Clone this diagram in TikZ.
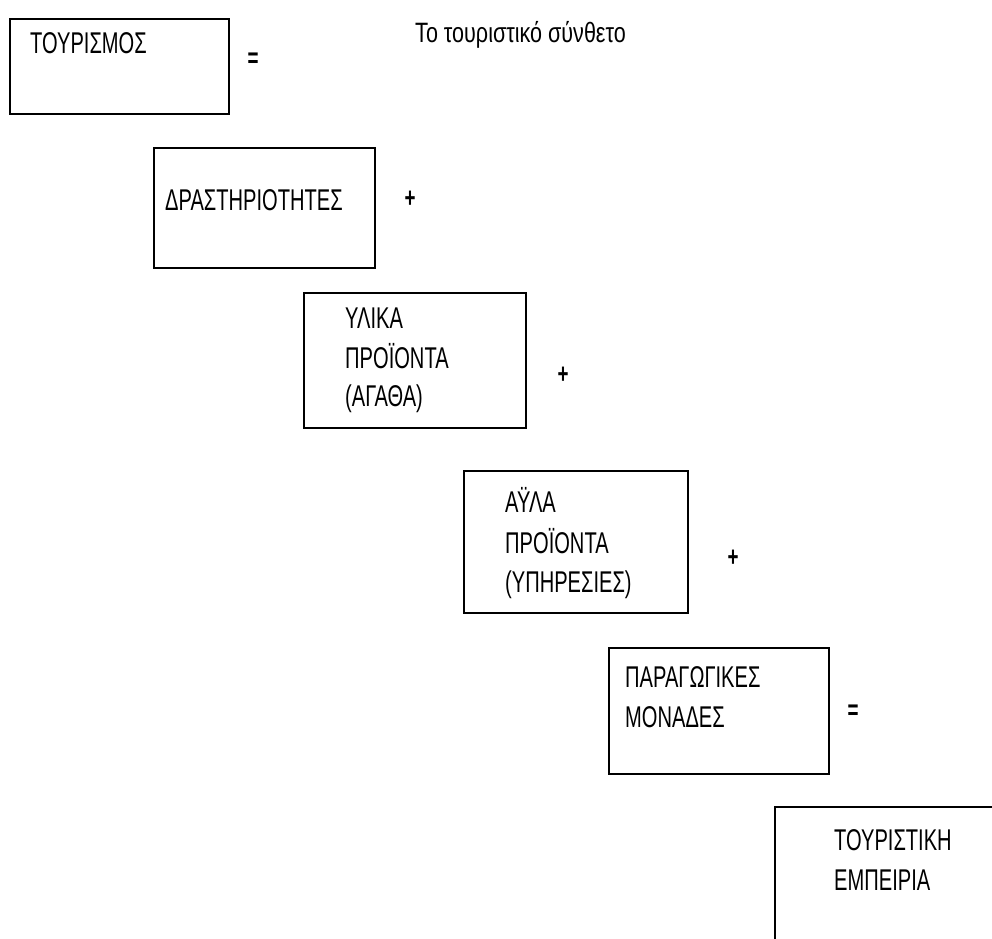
\documentclass[tikz,border=0pt]{standalone}
\usepackage{fontspec}
\setmainfont{Liberation Sans}
\newcommand\nrw[1]{\scalebox{0.67}[1]{#1}}
\newcommand\nrwt[1]{\scalebox{0.77}[1]{#1}}
\tikzset{
  box/.style={draw, line width=1.5pt, inner sep=0pt, anchor=north west},
  lbl/.style={anchor=base west, inner sep=0pt, font=\fontsize{30}{30}\selectfont},
  sgn/.style={anchor=center, inner sep=0pt, font=\fontsize{28}{28}\selectfont\bfseries},
  ttl/.style={anchor=base west, inner sep=0pt, font=\fontsize{28}{28}\selectfont}
}
\begin{document}
\begin{tikzpicture}[x=1pt,y=-1pt]
\clip (0,0) rectangle (992,938);
\fill[white] (0,0) rectangle (992,938);
% boxes
\node[box, minimum width=219pt, minimum height=95pt] (b1) at (9,18) {};
\node[box, minimum width=221pt, minimum height=120pt] (b2) at (153,147) {};
\node[box, minimum width=222pt, minimum height=135pt] (b3) at (303,292) {};
\node[box, minimum width=224pt, minimum height=142pt] (b4) at (463,470) {};
\node[box, minimum width=220pt, minimum height=126pt] (b5) at (608,647) {};
\node[box, minimum width=260pt, minimum height=160pt] (b6) at (774,806) {};
% title
\node[ttl] (title) at (415,42) {\nrwt{Το τουριστικό σύνθετο}};
% texts
\node[lbl] (t1) at (30,53) {\nrw{ΤΟΥΡΙΣΜΟΣ}};
\node[lbl] (t2) at (165,210) {\nrw{ΔΡΑΣΤΗΡΙΟΤΗΤΕΣ}};
\node[lbl] (t3a) at (345,328) {\nrw{ΥΛΙΚΑ}};
\node[lbl] (t3b) at (345,368) {\nrw{ΠΡΟΪΟΝΤΑ}};
\node[lbl] (t3c) at (345,406) {\nrw{(ΑΓΑΘΑ)}};
\node[lbl] (t4a) at (505,512) {\nrw{ΑΫΛΑ}};
\node[lbl] (t4b) at (505,553) {\nrw{ΠΡΟΪΟΝΤΑ}};
\node[lbl] (t4c) at (505,592) {\nrw{(ΥΠΗΡΕΣΙΕΣ)}};
\node[lbl] (t5a) at (625,687) {\nrw{ΠΑΡΑΓΩΓΙΚΕΣ}};
\node[lbl] (t5b) at (625,727) {\nrw{ΜΟΝΑΔΕΣ}};
\node[lbl] (t6a) at (834,850) {\nrw{ΤΟΥΡΙΣΤΙΚΗ}};
\node[lbl] (t6b) at (834,890) {\nrw{ΕΜΠΕΙΡΙΑ}};
% signs
\node[sgn] (s1) at (253,60) {\nrw{=}};
\node[sgn] (s2) at (410,199) {\nrw{+}};
\node[sgn] (s3) at (563,375) {\nrw{+}};
\node[sgn] (s4) at (733,558) {\nrw{+}};
\node[sgn] (s5) at (853,712) {\nrw{=}};
\end{tikzpicture}
\end{document}
